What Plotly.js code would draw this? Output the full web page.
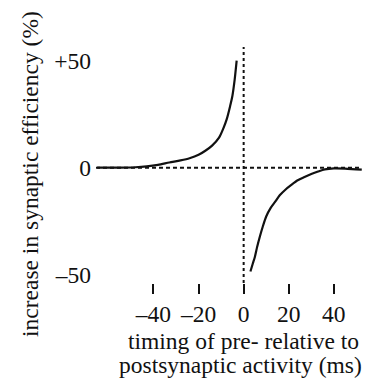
<!DOCTYPE html>
<html>
<head>
<meta charset="utf-8">
<script src="https://cdn.plot.ly/plotly-3.0.1.min.js"></script>
<style>html,body{margin:0;padding:0;background:#fff;}#chart{width:369px;height:380px;}</style>
</head>
<body>
<div id="chart"></div>
<script>
// Pre-before-post branch (potentiation), timing in ms, change in %
const preTiming = [-65, -55, -48, -43, -38, -33, -28, -24, -20, -17, -14, -11, -9, -7.5, -6, -5, -4, -3.1];
const preChange = [0, 0, 0.2, 0.6, 1.3, 2.4, 3.4, 4.4, 6.0, 7.9, 10.3, 13.9, 18.4, 22.7, 28.8, 33.5, 41, 50];
// Post-before-pre branch (depression)
const postTiming = [3, 4, 5, 6, 7.2, 8.5, 10, 12, 14, 16, 18.5, 21, 24, 27, 30, 33, 36, 40, 45, 52.4];
const postChange = [-48.5, -45, -41.6, -37, -32.2, -27.5, -22.8, -18.8, -15.9, -12.9, -10.3, -8.2, -5.9, -4.4, -3.0, -1.8, -0.8, -0.3, -0.4, -0.9];

const xTickVals = [-40, -20, 0, 20, 40];
const xTickText = ['\u201340', '\u201320', '0', '20', '40'];
const yTickVals = [50, 0, -50];
const yTickText = ['+50', '0', '\u201350'];

const xTitleLines = ['timing of pre- relative to', 'postsynaptic activity (ms)'];
const yTitle = 'increase in synaptic efficiency (%)';

const FONT = '"Liberation Serif"';
const lineStyle = {color: '#111', width: 2.2, shape: 'spline', smoothing: 0.8};

const data = [
  {x: preTiming, y: preChange, type: 'scatter', mode: 'lines', line: lineStyle, hoverinfo: 'skip'},
  {x: postTiming, y: postChange, type: 'scatter', mode: 'lines', line: lineStyle, hoverinfo: 'skip'}
];

const layout = {
  width: 369, height: 380,
  margin: {l: 96, r: 7, t: 47, b: 97, pad: 0},
  paper_bgcolor: '#fff', plot_bgcolor: '#fff',
  showlegend: false,
  font: {family: FONT, size: 23.5, color: '#111'},
  xaxis: {
    range: [-65.5, 52.5], showgrid: false, zeroline: false, showline: false,
    tickmode: 'array', tickvals: xTickVals, ticktext: xTickText,
    ticks: 'outside', ticklen: 10, tickwidth: 2, tickcolor: '#111',
    tickfont: {family: FONT, size: 23.5, color: '#111'}
  },
  yaxis: {
    range: [-53.9, 56.4], showgrid: false, zeroline: false, showline: false,
    tickmode: 'array', tickvals: yTickVals, ticktext: yTickText,
    ticks: '', ticklabelstandoff: 4,
    tickfont: {family: FONT, size: 23.5, color: '#111'}
  },
  shapes: [
    {type: 'line', layer: 'below', xref: 'paper', x0: 0, x1: 1, yref: 'y', y0: 0, y1: 0,
     line: {color: '#111', width: 2, dash: '4px,3px'}},
    {type: 'line', layer: 'below', xref: 'x', x0: 0, x1: 0, yref: 'paper', y0: 0, y1: 1,
     line: {color: '#111', width: 2, dash: '3px,3px'}}
  ],
  annotations: [
    {text: xTitleLines[0], xref: 'paper', yref: 'paper', x: 0.554, y: -0.2458,
     xanchor: 'center', yanchor: 'middle', showarrow: false},
    {text: xTitleLines[1], xref: 'paper', yref: 'paper', x: 0.544, y: -0.347,
     xanchor: 'center', yanchor: 'middle', showarrow: false},
    {text: yTitle, xref: 'paper', yref: 'paper', x: -0.248, y: 0.462, textangle: -90,
     xanchor: 'center', yanchor: 'middle', showarrow: false}
  ]
};

Plotly.newPlot('chart', data, layout, {displayModeBar: false, staticPlot: true});
</script>
</body>
</html>
